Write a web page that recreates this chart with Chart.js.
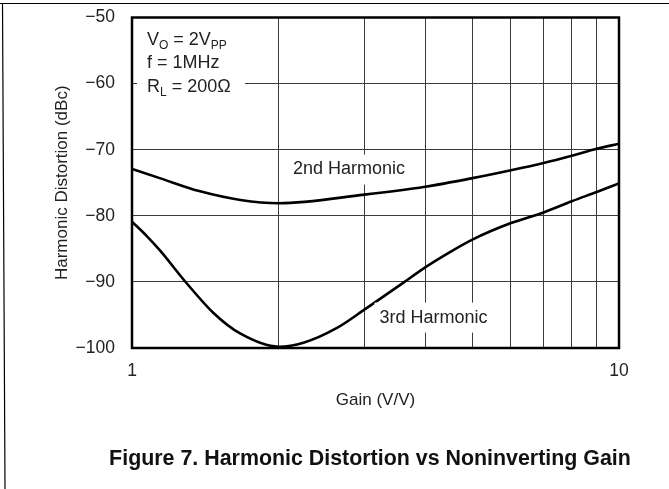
<!DOCTYPE html>
<html>
<head>
<meta charset="utf-8">
<script src="https://cdn.jsdelivr.net/npm/chart.js@4/dist/chart.umd.min.js"></script>
<style>
  html, body { margin: 0; padding: 0; background: #fff; }
  #wrap { position: relative; width: 669px; height: 489px; }
</style>
</head>
<body>
<div id="wrap"><canvas id="hdChart" width="669" height="489"></canvas></div>
<script>
// 2nd harmonic (gain V/V, dBc)
var gain2 = [1, 1.14, 1.38, 1.67, 2, 3, 4, 5, 6, 7, 8, 9, 10];
var hd2 = [-72.9, -74.3, -76.3, -77.6, -78.1, -76.8, -75.6, -74.3, -73.1, -72.0, -70.9, -69.85, -69.1];

// 3rd harmonic
var gain3 = [1, 1.07, 1.14, 1.295, 1.47, 1.667, 2, 2.25, 2.63, 3, 3.61, 4, 4.47, 5, 6, 7, 8, 9, 10];
var hd3 = [-80.9, -83.0, -85.2, -90.2, -94.7, -97.8, -99.8, -99.2, -97.0, -94.2, -90.1, -87.8, -85.6, -83.6, -81.1, -79.5, -77.8, -76.4, -75.1];

var xGridValues = [1, 2, 3, 4, 5, 6, 7, 8, 9, 10];
var xTickLabels = [1, 10];
var yTicks = [-100, -90, -80, -70, -60, -50];

// conditions box, each line is [text, subscript] pairs
var condLines = [
  [['V', ''], ['O', 'sub'], [' = 2V', ''], ['PP', 'sub']],
  [['f = 1MHz', '']],
  [['R', ''], ['L', 'sub'], [' = 200\u03A9', '']]
];
var curveLabels = [
  { text: '2nd Harmonic', x: 2.79, y: -73.0 },
  { text: '3rd Harmonic', x: 4.16, y: -95.4 }
];
var caption = 'Figure 7. Harmonic Distortion vs Noninverting Gain';

var FONT = '"Liberation Sans", Arial, Helvetica, sans-serif';

function toPts(xs, ys) {
  var out = [];
  for (var i = 0; i < xs.length; i++) out.push({ x: xs[i], y: ys[i] });
  return out;
}

// no extra room for overhanging tick labels
function noPad(s) {
  s.paddingTop = 0; s.paddingBottom = 0;
  s.paddingLeft = 0; s.paddingRight = 0;
}

// white-backed labels, plot frame, page frame, caption
var decorPlugin = {
  id: 'decor',
  afterDatasetsDraw: function (chart) {
    var ctx = chart.ctx, a = chart.chartArea;
    var xs = chart.scales.x, ys = chart.scales.y;
    ctx.save();
    ctx.font = '18px ' + FONT;
    ctx.textBaseline = 'middle';

    // curve labels
    curveLabels.forEach(function (l) {
      var px = xs.getPixelForValue(l.x), py = ys.getPixelForValue(l.y);
      var w = ctx.measureText(l.text).width;
      ctx.fillStyle = '#fff';
      ctx.fillRect(px - w / 2 - 5, py - 15, w + 10, 30);
      ctx.fillStyle = '#222';
      ctx.textAlign = 'center';
      ctx.fillText(l.text, px, py);
    });

    // conditions box
    ctx.fillStyle = '#fff';
    ctx.fillRect(a.left + 5, a.top + 4, 108, 88);
    ctx.fillStyle = '#222';
    ctx.textAlign = 'left';
    condLines.forEach(function (line, i) {
      var cx = a.left + 15, cy = a.top + 22.5 + i * 23.5;
      line.forEach(function (seg) {
        if (seg[1] === 'sub') {
          ctx.font = '12px ' + FONT;
          ctx.fillText(seg[0], cx, cy + 6);
        } else {
          ctx.font = '18px ' + FONT;
          ctx.fillText(seg[0], cx, cy);
        }
        cx += ctx.measureText(seg[0]).width;
      });
    });

    // plot frame
    ctx.strokeStyle = '#000';
    ctx.lineWidth = 2.5;
    ctx.strokeRect(a.left, a.top, a.right - a.left, a.bottom - a.top);

    // page frame (scan edge)
    ctx.lineWidth = 1.2;
    ctx.beginPath();
    ctx.moveTo(0, 3.5);
    ctx.lineTo(669, 3.5);
    ctx.moveTo(2.5, 3);
    ctx.lineTo(5, 489);
    ctx.stroke();

    // figure caption
    ctx.fillStyle = '#111';
    ctx.font = 'bold 21.4px ' + FONT;
    ctx.textAlign = 'center';
    ctx.fillText(caption, 370, 459);
    ctx.restore();
  }
};

var ctx = document.getElementById('hdChart').getContext('2d');
var chart = new Chart(ctx, {
  type: 'scatter',
  data: {
    datasets: [
      {
        label: '2nd Harmonic',
        data: toPts(gain2, hd2),
        showLine: true,
        borderColor: '#000',
        borderWidth: 2.6,
        pointRadius: 0,
        cubicInterpolationMode: 'monotone'
      },
      {
        label: '3rd Harmonic',
        data: toPts(gain3, hd3),
        showLine: true,
        borderColor: '#000',
        borderWidth: 2.6,
        pointRadius: 0,
        cubicInterpolationMode: 'monotone'
      }
    ]
  },
  options: {
    responsive: false,
    animation: false,
    layout: { padding: { left: 0, top: 17.5, right: 50, bottom: 0 } },
    plugins: {
      legend: { display: false },
      tooltip: { enabled: false },
      title: { display: false }
    },
    scales: {
      x: {
        type: 'logarithmic',
        min: 1,
        max: 10,
        afterFit: function (s) { s.height = 141; noPad(s); },
        afterBuildTicks: function (s) { s.ticks = xGridValues.map(function (v) { return { value: v }; }); },
        grid: { color: '#3a3a3a', lineWidth: 1, drawTicks: false },
        border: { display: false },
        ticks: {
          autoSkip: false,
          maxRotation: 0,
          padding: 13,
          color: '#222',
          font: { family: FONT, size: 17.5 },
          callback: function (v) { return xTickLabels.indexOf(v) >= 0 ? String(v) : ''; }
        },
        title: {
          display: true,
          text: 'Gain (V/V)',
          color: '#222',
          font: { family: FONT, size: 17 },
          padding: { top: 0, bottom: 78 }
        }
      },
      y: {
        min: -100,
        max: -50,
        afterFit: function (s) { s.width = 132; noPad(s); },
        afterBuildTicks: function (s) { s.ticks = yTicks.map(function (v) { return { value: v }; }); },
        grid: { color: '#3a3a3a', lineWidth: 1, drawTicks: false },
        border: { display: false },
        ticks: {
          padding: 17,
          color: '#222',
          font: { family: FONT, size: 17.5 },
          callback: function (v) { return String(v).replace('-', '\u2212'); }
        },
        title: {
          display: true,
          text: 'Harmonic Distortion (dBc)',
          color: '#222',
          font: { family: FONT, size: 17 },
          padding: { top: 52, bottom: 0 }
        }
      }
    }
  },
  plugins: [decorPlugin]
});
</script>
</body>
</html>
